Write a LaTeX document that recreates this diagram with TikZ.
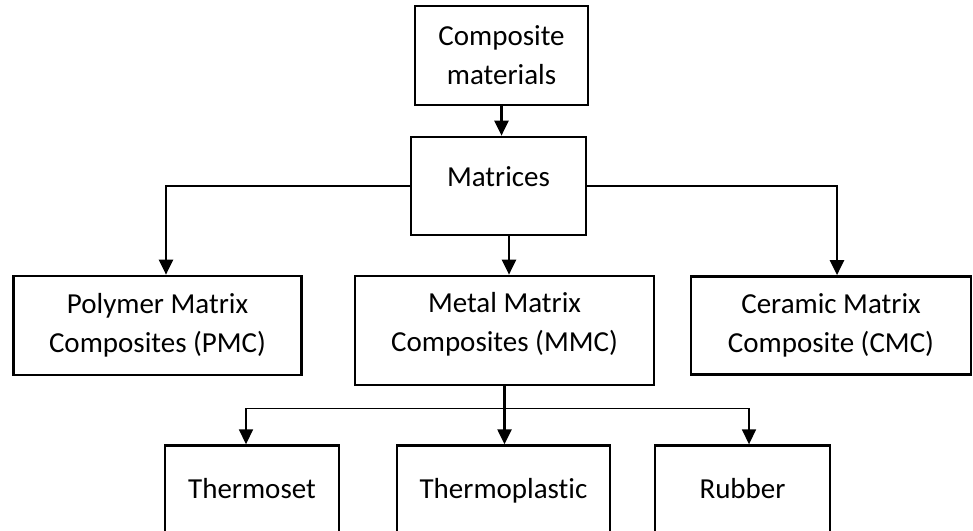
\documentclass[tikz,border=0pt]{standalone}
\usepackage{fontspec}
\setmainfont{Carlito}[Ligatures=NoCommon]
\usepackage{tikz}
\usetikzlibrary{arrows.meta}

\begin{document}
\begin{tikzpicture}[>={Triangle[length=0.45cm, width=0.42cm]}, font=\fontsize{24.75}{33.3}\selectfont,
    kasten/.style={draw, line width=2.3pt, align=center, inner sep=0pt},
    pfeil/.style={->, line width=2pt},
    zweig/.style={->, line width=1.4pt}]

    \useasboundingbox (0,0) rectangle (29.19,15.9);

    % --- Oben: Verbundwerkstoffe und Matrix ---
    \node[kasten, minimum width=5.19cm, minimum height=2.97cm] (comp) at (15.045,14.235) {Composite\\materials};
    \node[kasten, minimum width=5.25cm, minimum height=2.94cm, text depth=0.54cm] (mat) at (14.955,10.32) {Matrices};

    % --- Mitte: Matrixarten ---
    \node[kasten, minimum width=8.62cm, minimum height=2.97cm] (pmc) at (4.725,6.135) {Polymer Matrix\\Composites (PMC)};
    \node[kasten, minimum width=8.97cm, minimum height=3.27cm, text depth=0.5cm] (mmc) at (15.135,5.985) {Metal Matrix\\Composites (MMC)};
    \node[kasten, minimum width=8.4cm, minimum height=2.94cm] (cmc) at (24.93,6.135) {Ceramic Matrix\\Composite (CMC)};

    % --- Unten (Kaesten laufen unten aus dem Bild) ---
    \node[kasten, minimum width=5.22cm, minimum height=2.76cm, text depth=0.2cm] (tset) at (7.56,1.15) {Thermoset};
    \node[kasten, minimum width=6.39cm, minimum height=2.76cm, text depth=0.2cm] (tplast) at (15.105,1.15) {Thermoplastic};
    \node[kasten, minimum width=5.25cm, minimum height=2.76cm, text depth=0.2cm] (rub) at (22.275,1.15) {Rubber};

    % Pfeile
    \draw[pfeil] (comp.south) -- (comp.south |- mat.north);
    \draw[pfeil] (mat.west) -| ([xshift=0.255cm]pmc.north);
    \draw[pfeil] (mat.east) -| ([xshift=0.18cm]cmc.north);
    \draw[pfeil] ([xshift=0.135cm]mmc.north |- mat.south) -- ([xshift=0.135cm]mmc.north);

    % Verzweigung unter MMC
    \coordinate (split) at ([yshift=-0.66cm]mmc.south);
    \draw[pfeil] (mmc.south) -- (mmc.south |- tplast.north);
    \draw[zweig] (split) -| ([xshift=-0.18cm]tset.north);
    \draw[zweig] (split) -| ([xshift=0.195cm]rub.north);

\end{tikzpicture}
\end{document}
